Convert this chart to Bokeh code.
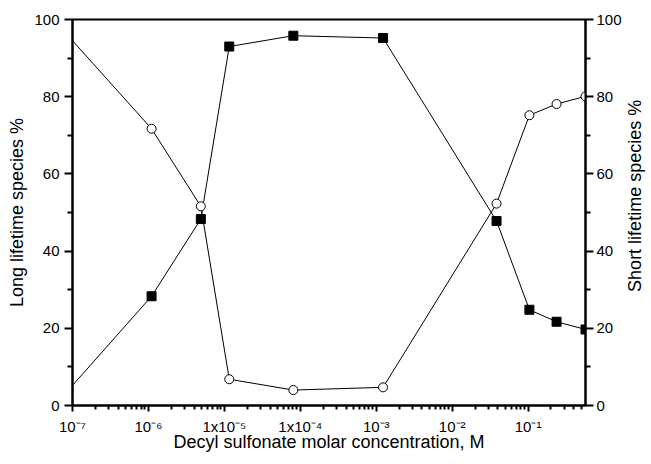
import math
from bokeh.plotting import figure
from bokeh.layouts import row
from bokeh.core.properties import value
from bokeh.models import LinearAxis, Range1d, FixedTicker, LogAxis, LogScale
from bokeh.embed import file_html
from bokeh.resources import INLINE

# Data
conc = [1e-7, 1.1e-6, 4.9e-6, 1.16e-5, 8.1e-5, 1.23e-3, 0.0384, 0.104, 0.237, 0.57]
long_pct = [5.2, 28.3, 48.3, 93.0, 95.8, 95.2, 47.8, 24.8, 21.7, 19.7]
short_pct = [94.5, 71.7, 51.6, 6.8, 4.0, 4.7, 52.3, 75.2, 78.1, 80.1]

x_ticks = [1e-7, 1e-6, 1e-5, 1e-4, 1e-3, 1e-2, 1e-1]
x_tick_labels = ["10\u207b\u2077", "10\u207b\u2076", "1x10\u207b\u2075", "1x10\u207b\u2074",
                 "10\u207b\u00b3", "10\u207b\u00b2", "10\u207b\u00b9"]
y_ticks = [0, 20, 40, 60, 80, 100]
y_minor = [10, 30, 50, 70, 90]
right_title_text = "Short lifetime species %"

FONT = "Liberation Sans"

p = figure(width=624, height=464, x_axis_type=None, y_axis_location=None,
           x_range=Range1d(1e-7, 0.57), y_range=Range1d(0, 100),
           output_backend="svg", toolbar_location=None,
           min_border_left=72, min_border_right=37, min_border_top=19, min_border_bottom=59)
p.x_scale = LogScale()
p.extra_y_ranges = {"right": Range1d(0, 100)}
p.grid.visible = False
p.background_fill_color = "white"
p.border_fill_color = "white"
p.outline_line_color = "black"
p.outline_line_width = 2

minor_x = []
for e in range(-7, 0):
    for m in range(2, 10):
        minor_x.append(m * 10.0 ** e)

xaxis = LogAxis(ticker=FixedTicker(ticks=x_ticks, minor_ticks=minor_x),
                axis_label="Decyl sulfonate molar concentration, M")
xaxis.major_label_overrides = {t: l for t, l in zip(x_ticks, x_tick_labels)}
p.add_layout(xaxis, "below")

laxis = LinearAxis(ticker=FixedTicker(ticks=y_ticks, minor_ticks=y_minor),
                   axis_label="Long lifetime species %")
raxis = LinearAxis(ticker=FixedTicker(ticks=y_ticks, minor_ticks=y_minor),
                   y_range_name="right")
p.add_layout(laxis, "left")
p.add_layout(raxis, "right")

for ax in (xaxis, laxis, raxis):
    ax.axis_line_color = "black"
    ax.axis_line_width = 2
    ax.major_tick_line_color = "black"
    ax.minor_tick_line_color = "black"
    ax.major_tick_line_width = 2
    ax.minor_tick_line_width = 2
    ax.major_tick_in = 0
    ax.minor_tick_in = 0
    ax.major_label_text_font = FONT
    ax.major_label_text_font_size = "15px"
    ax.major_label_text_color = "black"
    ax.axis_label_text_font = FONT
    ax.axis_label_text_font_size = "18px"
    ax.axis_label_text_font_style = "normal"
    ax.axis_label_text_color = "black"

xaxis.major_tick_out = 6
xaxis.minor_tick_out = 4
xaxis.major_label_standoff = 6
xaxis.axis_label_standoff = -6
laxis.major_tick_out = 8
laxis.minor_tick_out = 5
laxis.major_label_standoff = 5
laxis.axis_label_standoff = 4
raxis.major_tick_out = 8
raxis.minor_tick_out = 5
raxis.major_label_standoff = 3

p.line(conc, long_pct, line_color="black", line_width=1)
p.line(conc, short_pct, line_color="black", line_width=1)
p.scatter(conc[1:], long_pct[1:], marker="square", size=9,
          fill_color="black", line_color="black")
p.scatter(conc[1:], short_pct[1:], marker="circle", size=9,
          fill_color="white", line_color="black", line_width=1)

# narrow side panel holding the right-hand axis title (reads bottom to top)
side = figure(width=27, height=464, x_range=Range1d(0, 27), y_range=Range1d(0, 464),
              x_axis_location=None, y_axis_location=None,
              output_backend="svg", toolbar_location=None,
              min_border_left=0, min_border_right=0, min_border_top=0, min_border_bottom=0)
side.outline_line_color = None
side.background_fill_color = "white"
side.border_fill_color = "white"
side.grid.visible = False
side.text(x=[10], y=[252], text=[right_title_text], angle=math.pi / 2,
          text_align="center", text_baseline="middle",
          text_font=value(FONT), text_font_size="18px", text_color="black")

layout = row(p, side, spacing=0)
open("out.html", "w").write(file_html(layout, INLINE))
